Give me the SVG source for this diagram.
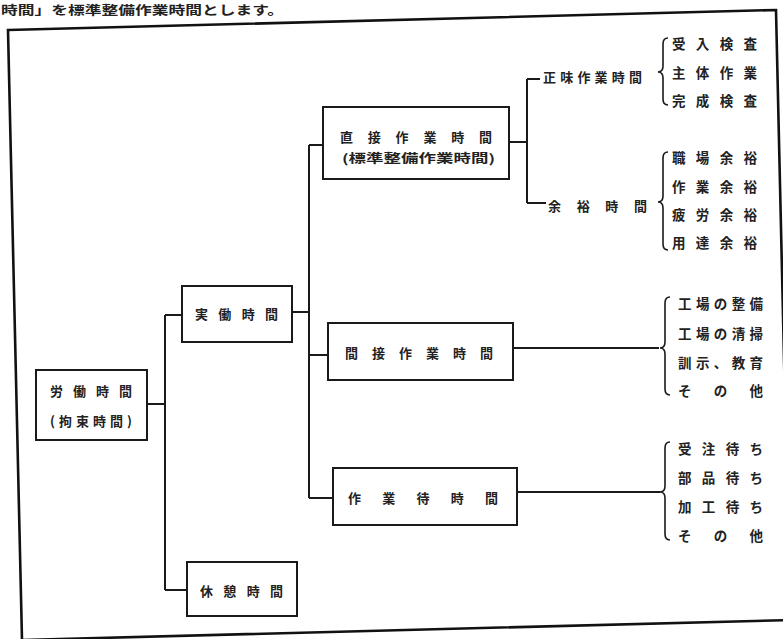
<svg xmlns="http://www.w3.org/2000/svg" width="783" height="639" viewBox="0 0 783 639">
<style>
  .box{fill:#fff;stroke:#1a1a1a;stroke-width:2}
  .ln{fill:none;stroke:#1a1a1a;stroke-width:2}
  .br{fill:none;stroke:#1a1a1a;stroke-width:1.6}
  .frame{fill:none;stroke:#111;stroke-width:2.6}
  text{font-family:"Noto Sans CJK JP","Noto Sans CJK SC",sans-serif;font-size:13px;font-weight:700;fill:#222;dominant-baseline:central}
  .it{font-size:13.5px}
</style>
<rect width="783" height="639" fill="#fff"/>
<text x="1" y="9" textLength="283" lengthAdjust="spacingAndGlyphs" style="font-size:12.5px">時間」を標準整備作業時間とします。</text>
<polygon class="frame" points="8,30 776,10 790,620 22,640"/>

<g id="connectors">
  <path class="ln" d="M147,404 H165 M165,315 V590 M165,315 H182 M165,590 H187"/>
  <path class="ln" d="M292,312 H309 M309,145 V498 M309,145 H323 M309,355 H328 M309,498 H333"/>
  <path class="ln" d="M509,142 H527 M527,79 V203 M527,79 H540 M527,203 H546"/>
  <path class="ln" d="M513,348 H659 M517,492 H660"/>
  <path class="br" d="M668,38 Q663,38 663,44 L663,66 Q663,72 658,72 Q663,72 663,78 L663,99 Q663,105 668,105"/>
  <path class="br" d="M668,152 Q663,152 663,158 L663,196 Q663,202 658,202 Q663,202 663,208 L663,244 Q663,250 668,250"/>
  <path class="br" d="M670,297 Q665,297 665,303 L665,342 Q665,348 660,348 Q665,348 665,354 L665,389 Q665,395 670,395"/>
  <path class="br" d="M670,442 Q665,442 665,448 L665,486 Q665,492 660,492 Q665,492 665,498 L665,534 Q665,540 670,540"/>
</g>

<g id="rodo">
  <rect class="box" x="36" y="370" width="111" height="70"/>
  <text x="50" y="390" textLength="82" lengthAdjust="spacing">労働時間</text>
  <text x="50" y="420" textLength="82" lengthAdjust="spacing">(拘束時間)</text>
</g>
<g id="jitsudo">
  <rect class="box" x="182" y="286" width="110" height="56"/>
  <text x="195" y="313" textLength="83" lengthAdjust="spacing">実働時間</text>
</g>
<g id="kyukei">
  <rect class="box" x="187" y="562" width="110" height="54"/>
  <text x="200" y="590" textLength="83" lengthAdjust="spacing">休憩時間</text>
</g>
<g id="chokusetsu">
  <rect class="box" x="323" y="107" width="186" height="72"/>
  <text x="340" y="136" textLength="152" lengthAdjust="spacing">直接作業時間</text>
  <text x="342" y="157" textLength="153" lengthAdjust="spacingAndGlyphs" style="font-size:12px">(標準整備作業時間)</text>
</g>
<g id="kansetsu">
  <rect class="box" x="328" y="323" width="185" height="57"/>
  <text x="345" y="352" textLength="148" lengthAdjust="spacing">間接作業時間</text>
</g>
<g id="machi">
  <rect class="box" x="333" y="468" width="184" height="57"/>
  <text x="348" y="497" textLength="150" lengthAdjust="spacing">作業待時間</text>
</g>
<g id="shomi">
  <text x="543" y="76" textLength="99" lengthAdjust="spacing">正味作業時間</text>
</g>
<g id="yoyu">
  <text x="548" y="205" textLength="99" lengthAdjust="spacing">余裕時間</text>
</g>
<g id="shomi-items">
  <text class="it" x="672" y="43" textLength="85" lengthAdjust="spacing">受入検査</text>
  <text class="it" x="672" y="72" textLength="85" lengthAdjust="spacing">主体作業</text>
  <text class="it" x="672" y="100" textLength="85" lengthAdjust="spacing">完成検査</text>
</g>
<g id="yoyu-items">
  <text class="it" x="672" y="157" textLength="85" lengthAdjust="spacing">職場余裕</text>
  <text class="it" x="672" y="186" textLength="85" lengthAdjust="spacing">作業余裕</text>
  <text class="it" x="672" y="214" textLength="85" lengthAdjust="spacing">疲労余裕</text>
  <text class="it" x="672" y="242" textLength="85" lengthAdjust="spacing">用達余裕</text>
</g>
<g id="kansetsu-items">
  <text class="it" x="678" y="303" textLength="85" lengthAdjust="spacing">工場の整備</text>
  <text class="it" x="678" y="333" textLength="85" lengthAdjust="spacing">工場の清掃</text>
  <text class="it" x="678" y="362" textLength="85" lengthAdjust="spacing">訓示、教育</text>
  <text class="it" x="678" y="390" textLength="85" lengthAdjust="spacing">その他</text>
</g>
<g id="machi-items">
  <text class="it" x="678" y="448" textLength="85" lengthAdjust="spacing">受注待ち</text>
  <text class="it" x="678" y="477" textLength="85" lengthAdjust="spacing">部品待ち</text>
  <text class="it" x="678" y="506" textLength="85" lengthAdjust="spacing">加工待ち</text>
  <text class="it" x="678" y="535" textLength="85" lengthAdjust="spacing">その他</text>
</g>
</svg>
